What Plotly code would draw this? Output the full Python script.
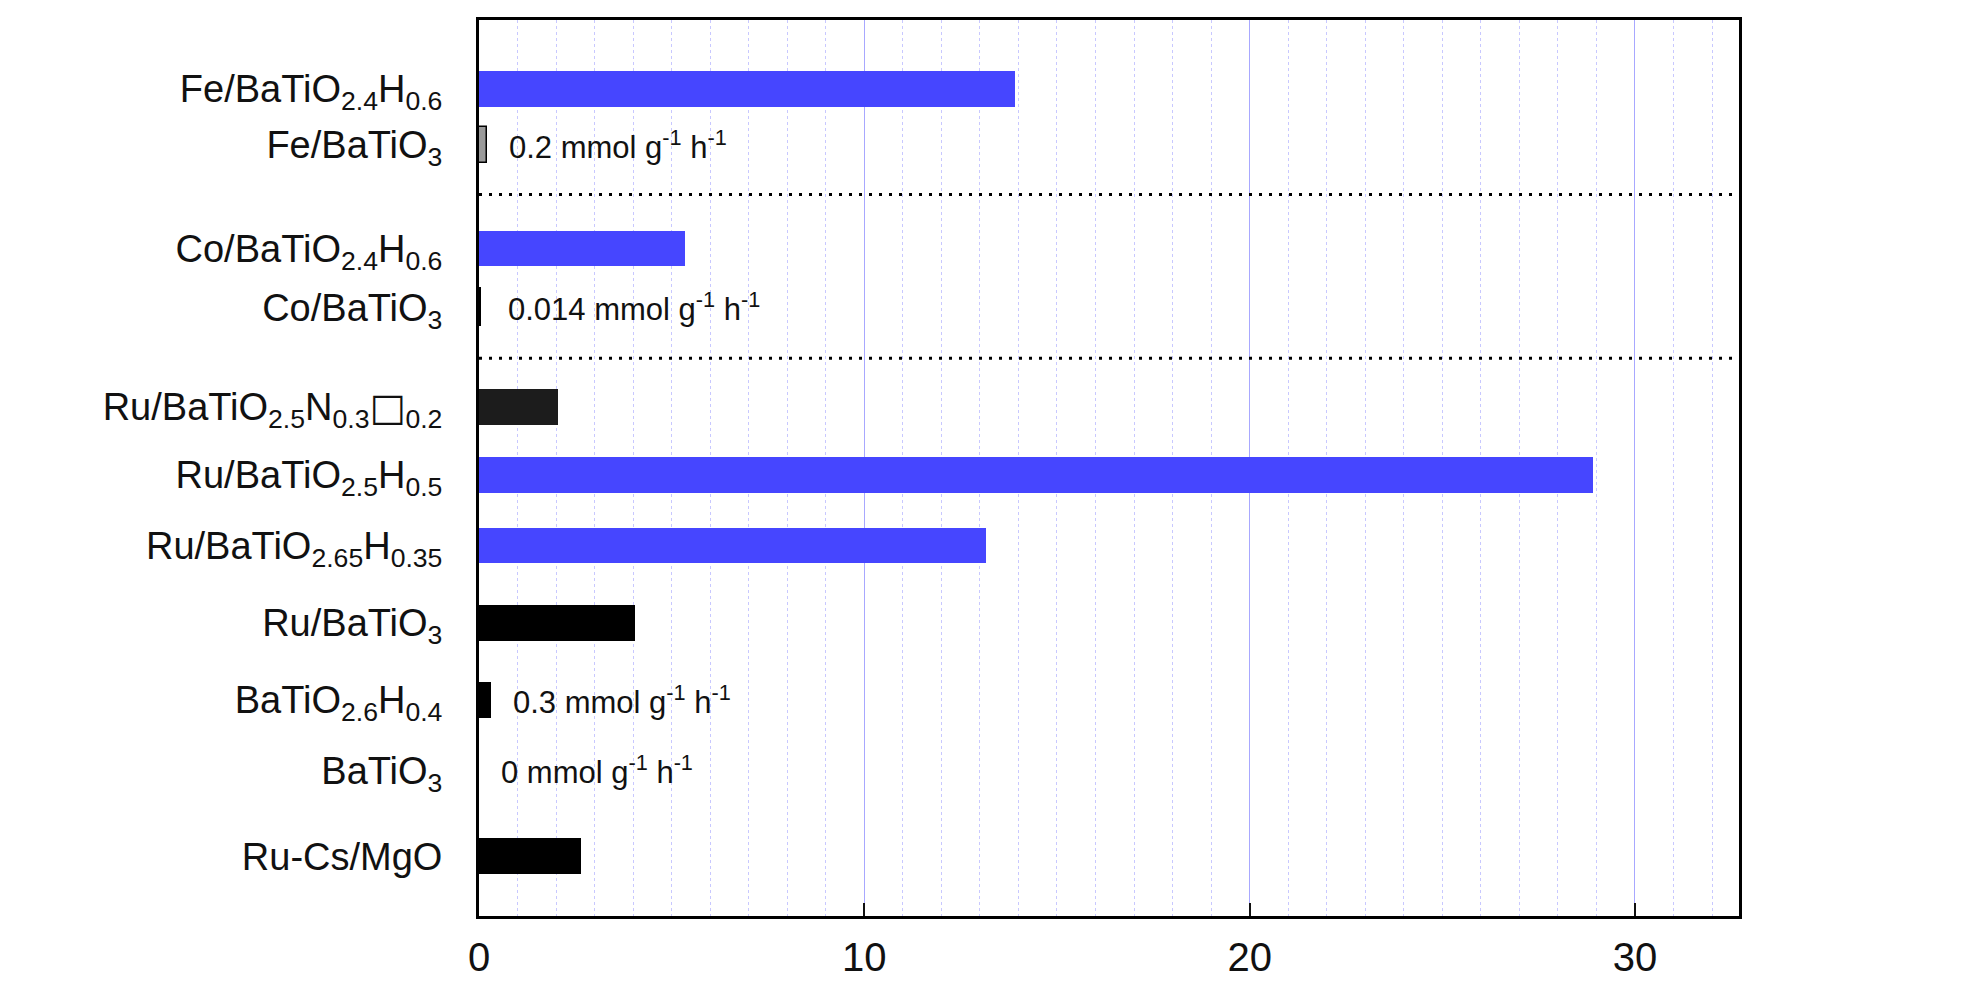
import plotly.graph_objects as go

# Catalysts (top to bottom) and their activity in mmol g^-1 h^-1
catalysts = [
    "Fe/BaTiO<sub>2.4</sub>H<sub>0.6</sub>",
    "Fe/BaTiO<sub>3</sub>",
    "Co/BaTiO<sub>2.4</sub>H<sub>0.6</sub>",
    "Co/BaTiO<sub>3</sub>",
    "Ru/BaTiO<sub>2.5</sub>N<sub>0.3</sub>"
    "<span style=\"font-family:'DejaVu Sans'\">□</span><sub>0.2</sub>",
    "Ru/BaTiO<sub>2.5</sub>H<sub>0.5</sub>",
    "Ru/BaTiO<sub>2.65</sub>H<sub>0.35</sub>",
    "Ru/BaTiO<sub>3</sub>",
    "BaTiO<sub>2.6</sub>H<sub>0.4</sub>",
    "BaTiO<sub>3</sub>",
    "Ru-Cs/MgO",
]
rates = [13.9, 0.2, 5.35, 0.014, 2.05, 28.9, 13.15, 4.05, 0.3, 0.0, 2.65]

# Rates that are written next to their (very short) bars
labelled = {1: 0.2, 3: 0.014, 8: 0.3, 9: 0.0}
labelled_text = {1: "0.2", 3: "0.014", 8: "0.3", 9: "0"}

# Vertical layout of the rows (pixels from the top of the plotting area)
row_y = [68.7, 125, 229, 288, 388, 455.7, 526.7, 604.5, 681.5, 752, 838.3]
separators_y = [175, 339]
plot_h = 898

BLUE = "#4646ff"
fill = [BLUE, "#9a9a9a", BLUE, "#000000", "#1c1c1c", BLUE, BLUE,
        "#000000", "#000000", "#000000", "#000000"]
edge_w = [0, 1.5, 0, 3, 0, 0, 0, 0, 0, 0, 0]

FONT = "Liberation Sans, Arial, DejaVu Sans, sans-serif"
NARROW = "Liberation Sans Narrow, Arial Narrow, Liberation Sans, sans-serif"

fig = go.Figure(
    go.Bar(
        x=rates,
        y=row_y,
        orientation="h",
        width=36,
        marker=dict(color=fill, line=dict(color="#000000", width=edge_w)),
        hoverinfo="skip",
    )
)

for yv in separators_y:
    fig.add_shape(
        type="line", xref="paper", yref="y", x0=0, x1=1, y0=yv, y1=yv,
        line=dict(color="#000000", width=3, dash="3px,7px"), layer="above",
    )

for i, v in labelled.items():
    fig.add_annotation(
        x=v, y=row_y[i], xref="x", yref="y",
        text=f"{labelled_text[i]} mmol g<sup>-1</sup> h<sup>-1</sup>",
        showarrow=False, xanchor="left", yanchor="middle",
        xshift=20 if v > 0.1 or v == 0 else 26,
        font=dict(family=FONT, size=31, color="#111111"),
    )

fig.update_layout(
    width=1972,
    height=991,
    margin=dict(l=479, r=233, t=20, b=73),
    plot_bgcolor="#ffffff",
    paper_bgcolor="#ffffff",
    showlegend=False,
    bargap=0,
    xaxis=dict(
        range=[0, 32.7],
        tickvals=[0, 10, 20, 30],
        ticks="inside",
        ticklen=13,
        tickwidth=2,
        tickcolor="#111111",
        showline=True,
        linecolor="#000000",
        linewidth=3,
        mirror=True,
        showgrid=True,
        gridcolor="#a8a8ff",
        gridwidth=1,
        zeroline=False,
        ticklabelstandoff=4,
        tickfont=dict(family=NARROW, size=40, color="#111111"),
        minor=dict(
            dtick=1,
            showgrid=True,
            gridcolor="#c8c8ff",
            griddash="dot",
            gridwidth=1,
            ticks="",
        ),
    ),
    yaxis=dict(
        range=[plot_h, 0],
        tickvals=row_y,
        ticktext=catalysts,
        ticks="",
        showline=True,
        linecolor="#000000",
        linewidth=3,
        mirror=True,
        showgrid=False,
        zeroline=False,
        ticklabelstandoff=26,
        tickfont=dict(family=FONT, size=38, color="#111111"),
    ),
)

fig.write_html("out.html")
